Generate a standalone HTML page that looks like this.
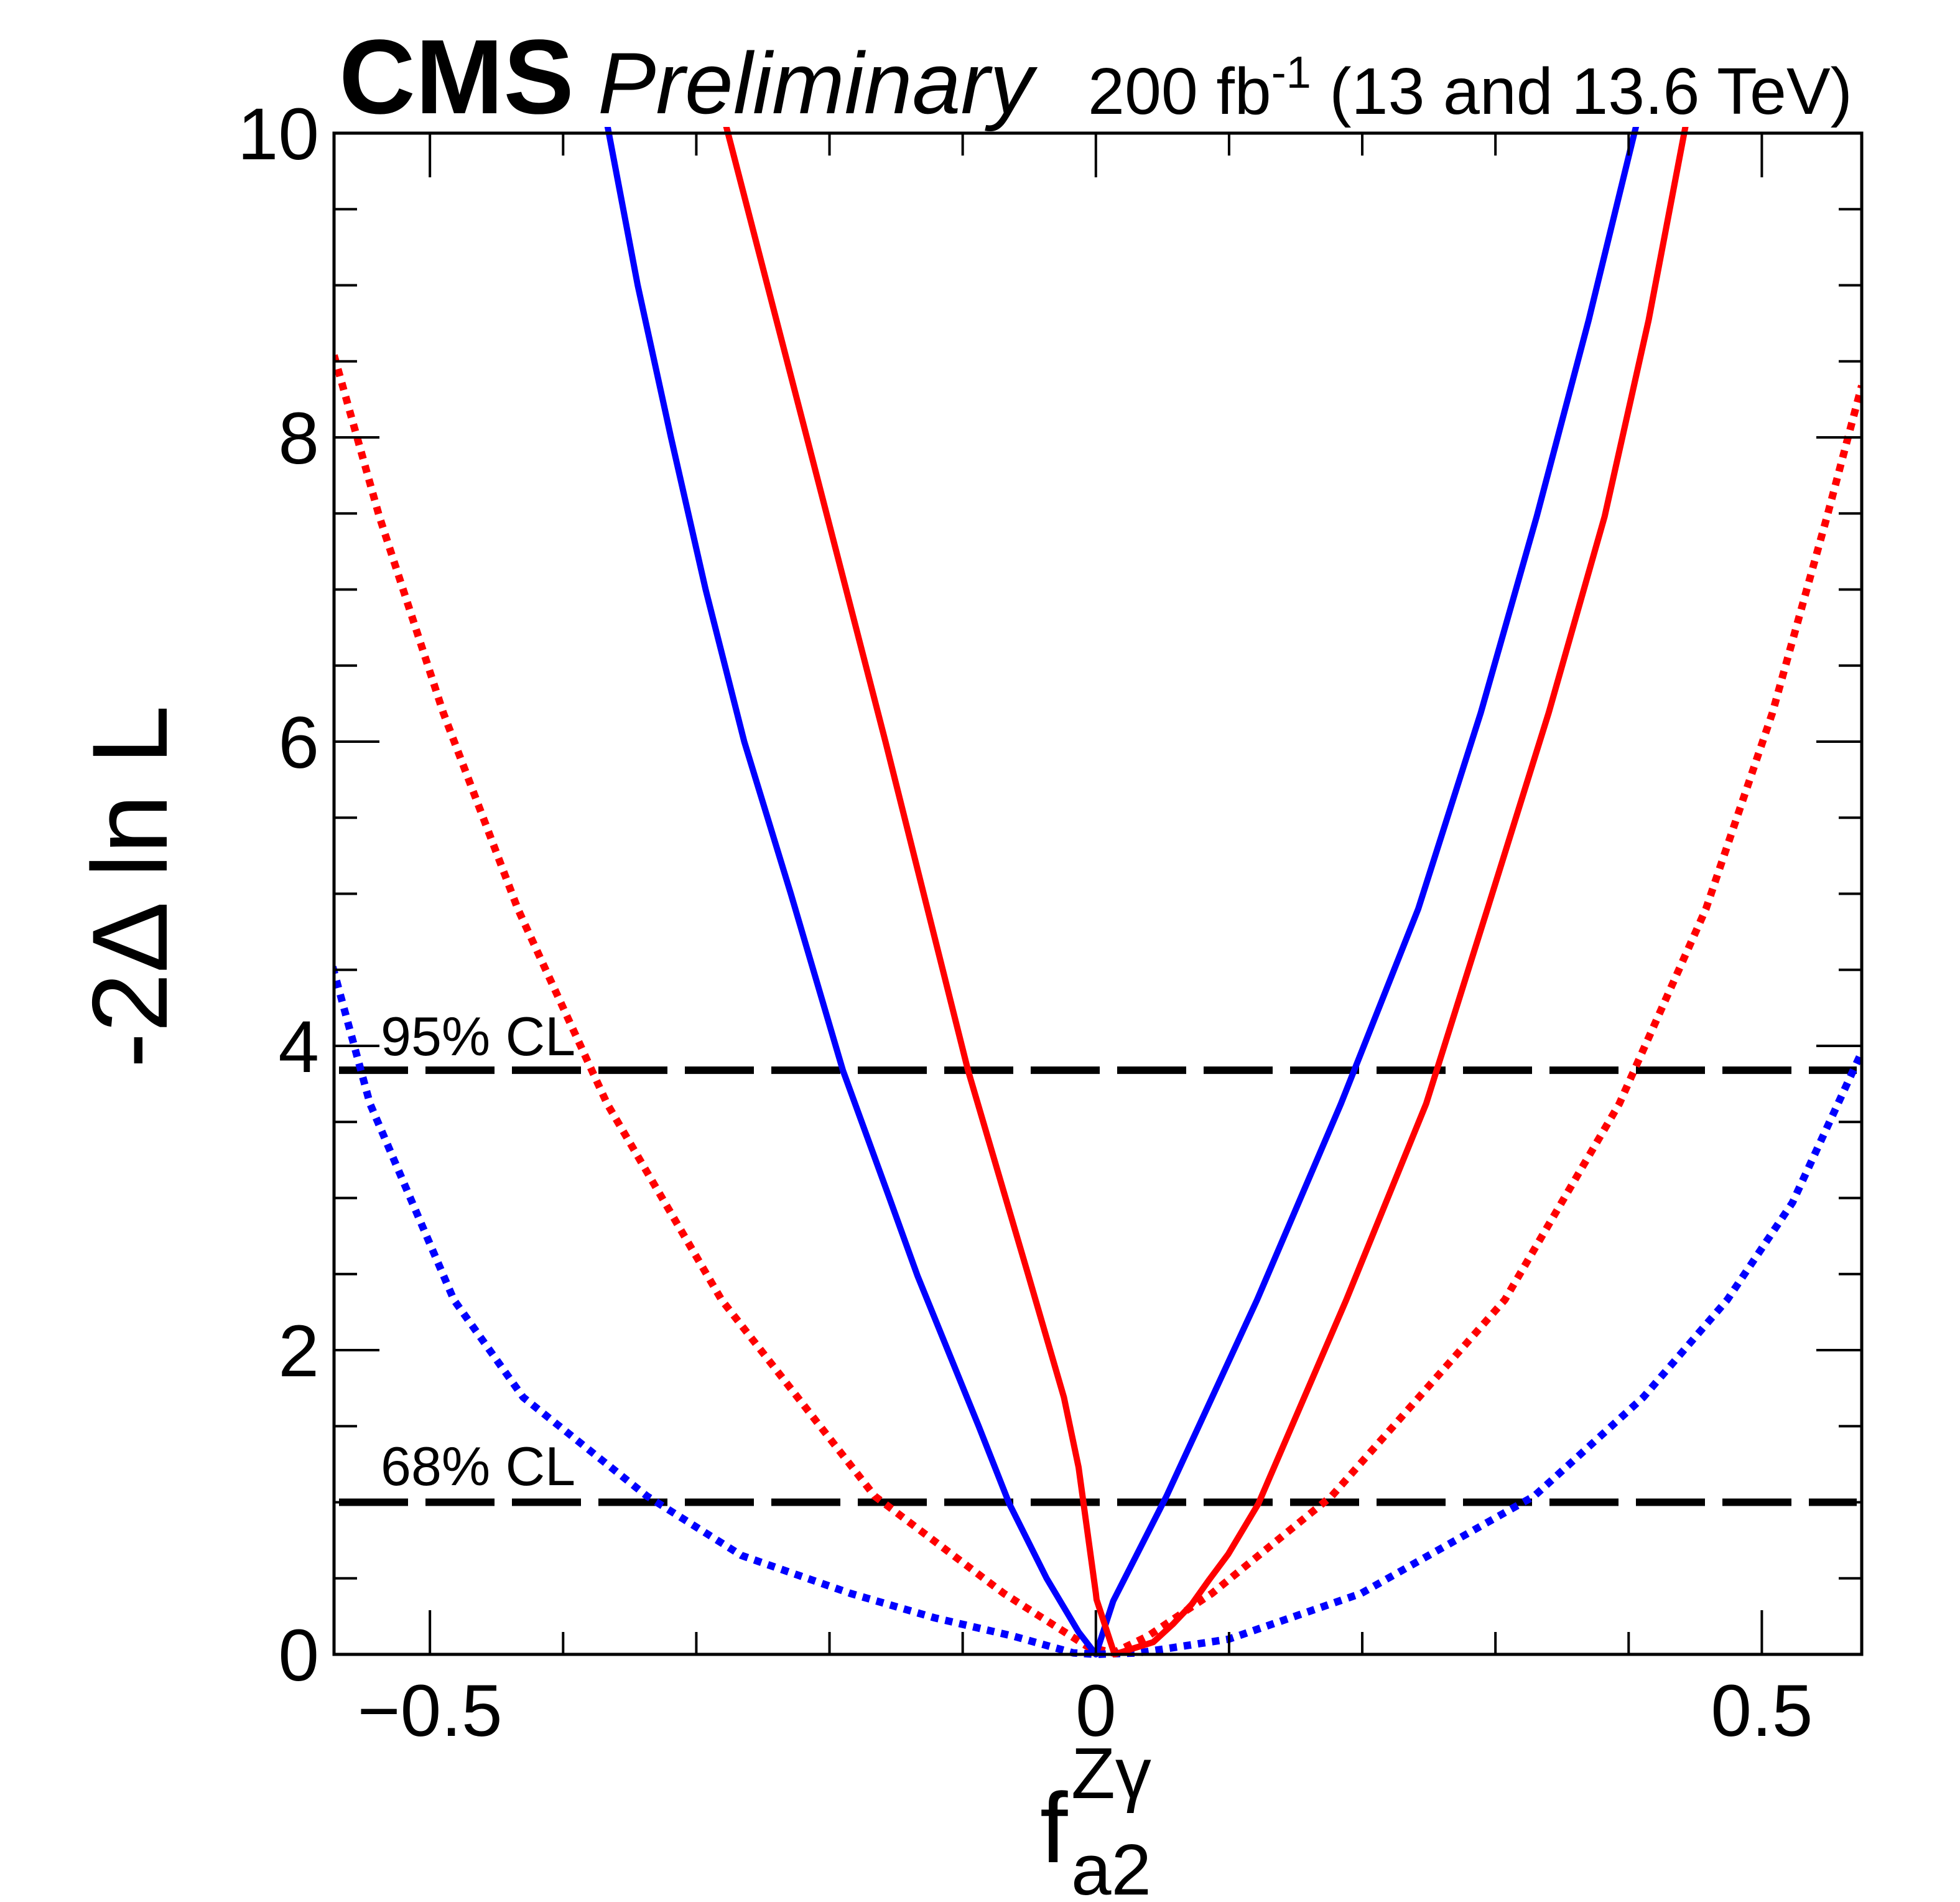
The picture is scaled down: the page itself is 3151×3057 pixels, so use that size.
<!DOCTYPE html>
<html><head><meta charset="utf-8"><style>
html,body{margin:0;padding:0;background:#fff;}
svg{display:block;}
text{font-family:"Liberation Sans",sans-serif;fill:#000;}
</style></head><body>
<svg id="chart" width="3151" height="3057" viewBox="0 0 3151 3057" xmlns="http://www.w3.org/2000/svg">
<rect width="3151" height="3057" fill="#fff"/>
<g id="marks"></g>
<g id="axes"></g>
<text x="545" y="182" font-size="170" font-weight="bold">CMS</text>
<text x="961" y="182" font-size="140" font-style="italic">Preliminary</text>
<text x="2978" y="183" font-size="106" text-anchor="end">200 fb<tspan dy="-42" font-size="72">-1</tspan><tspan dy="42"> (13 and 13.6 TeV)</tspan></text>
<text transform="translate(268,1425) rotate(-90)" font-size="172" text-anchor="middle">-2Δ ln L</text>
<text x="1672" y="2993" font-size="160">f</text>
<text x="1722" y="2890" font-size="116">Zγ</text>
<text x="1722" y="3045" font-size="116">a2</text>
<text x="612" y="1696" font-size="88">95% CL</text>
<text x="612" y="2387" font-size="88">68% CL</text>
</svg>
<script>
const xTickMajor = [-0.5, 0, 0.5];
const xTickLabels = ["\u22120.5", "0", "0.5"];
const yTickMajor = [0, 2, 4, 6, 8, 10];
const yTickLabels = ["0", "2", "4", "6", "8", "10"];
const clLevels = [1.0, 3.84];
const blueSolidX = [-0.367,-0.344,-0.319,-0.293,-0.264,-0.229,-0.19,-0.155,-0.134,-0.088,-0.065,-0.037,-0.013,0,0.013,0.053,0.121,0.184,0.242,0.289,0.331,0.370,0.406];
const blueSolidY = [10.06,9,8,7,6,5,3.84,3,2.49,1.5,0.99,0.5,0.147,0,0.35,1.04,2.33,3.62,4.90,6.19,7.48,8.77,10.06];
const redSolidX = [-0.278,-0.217,-0.158,-0.096,-0.0506,-0.024,-0.013,0.0,0.0005,0.014,0.0285,0.043,0.058,0.072,0.085,0.0995,0.122,0.188,0.248,0.294,0.340,0.382,0.415,0.443];
const redSolidY = [10.06,8,6,3.84,2.49,1.69,1.23,0.40,0.36,0,0.04,0.08,0.2,0.33,0.49,0.66,0.99,2.33,3.62,4.90,6.19,7.48,8.77,10.06];
const redDotX = [-0.572,-0.538,-0.490,-0.434,-0.367,-0.281,-0.166,-0.069,-0.006,0.013,0.039,0.087,0.177,0.307,0.393,0.458,0.508,0.549,0.575];
const redDotY = [8.54,7.48,6.19,4.90,3.62,2.33,1.04,0.40,0.05,0.01,0.12,0.40,1.04,2.33,3.62,4.90,6.19,7.48,8.34];
const blueDotX = [-0.573,-0.545,-0.482,-0.430,-0.337,-0.266,-0.184,-0.121,-0.062,-0.017,0.0,0.032,0.0996,0.199,0.329,0.411,0.474,0.523,0.575];
const blueDotY = [4.52,3.62,2.33,1.69,1.04,0.65,0.40,0.24,0.12,0.01,0,0.01,0.10,0.40,1.04,1.69,2.33,2.97,3.96];

const L=537,R=2993,T=214,B=2659,XMIN=-0.572,XMAX=0.575,YMIN=0,YMAX=10;
const sx=v=>L+(v-XMIN)/(XMAX-XMIN)*(R-L);
const sy=v=>B-(v-YMIN)/(YMAX-YMIN)*(B-T);
const NS="http://www.w3.org/2000/svg";
const marks=document.getElementById('marks');
const axes=document.getElementById('axes');
function mk(tag,parent,attrs){const e=document.createElementNS(NS,tag);for(const k in attrs)e.setAttribute(k,attrs[k]);parent.appendChild(e);return e;}

const defs=mk('defs',marks,{});
const cp=mk('clipPath',defs,{id:'clip'});
mk('rect',cp,{x:L,y:T-10,width:R-L,height:B-T+20});

clLevels.forEach((c,i)=>{
  const ln=mk('line',marks,{x1:545,x2:2985,y1:sy(c),y2:sy(c),stroke:'#000','stroke-width':12,'stroke-dasharray':'111 28'});
  
  
});

function curve(xs,ys,color,dash,name){
  const d=xs.map((x,i)=>(i?'L':'M')+sx(x).toFixed(1)+','+sy(ys[i]).toFixed(1)).join(' ');
  const p=mk('path',marks,{d:d,fill:'none',stroke:color,'stroke-width':dash?12:10,'stroke-linejoin':'round','clip-path':'url(#clip)'});
  if(dash)p.setAttribute('stroke-dasharray',dash);
  
  
}
curve(redDotX,redDotY,'#ff0000','12 11','red-dotted-curve');
curve(blueDotX,blueDotY,'#0000ff','12 11','blue-dotted-curve');
curve(blueSolidX,blueSolidY,'#0000ff',null,'blue-solid-curve');
curve(redSolidX,redSolidY,'#ff0000',null,'red-solid-curve');

const fr=mk('rect',axes,{x:L,y:T,width:R-L,height:B-T,fill:'none',stroke:'#000','stroke-width':5});



for(let k=-5;k<=5;k++){
  const v=k/10; const major=(k%5===0); const len=major?71:36; const x=sx(v);
  if(x < L || x > R) continue;
  const t1=mk('line',axes,{x1:x,x2:x,y1:B,y2:B-len,stroke:'#000','stroke-width':4});
  
  
  const t2=mk('line',axes,{x1:x,x2:x,y1:T,y2:T+len,stroke:'#000','stroke-width':4});
  
  
}
xTickMajor.forEach((v,i)=>{
  const t=mk('text',axes,{x:sx(v),y:2790,'font-size':118,'text-anchor':'middle'});
  t.textContent=xTickLabels[i];
  
  
});
for(let k=0;k<=20;k++){
  const v=k/2; const major=(k%4===0); const len=major?73:37; const y=sy(v);
  const t1=mk('line',axes,{x1:L,x2:L+len,y1:y,y2:y,stroke:'#000','stroke-width':4});
  
  
  const t2=mk('line',axes,{x1:R,x2:R-len,y1:y,y2:y,stroke:'#000','stroke-width':4});
  
  
}
yTickMajor.forEach((v,i)=>{
  const t=mk('text',axes,{x:513,y:sy(v)+42,'font-size':118,'text-anchor':'end'});
  t.textContent=yTickLabels[i];
  
  
});
</script>
</body></html>
